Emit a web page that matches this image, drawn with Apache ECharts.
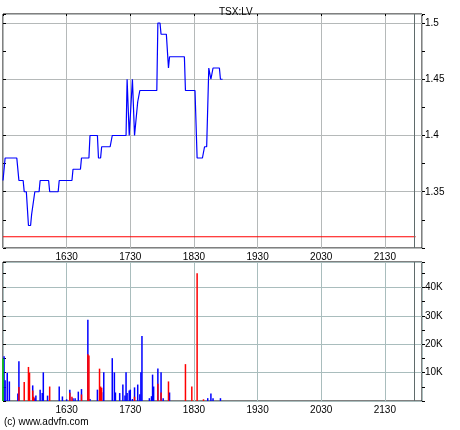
<!DOCTYPE html>
<html>
<head>
<meta charset="utf-8">
<script src="https://cdn.jsdelivr.net/npm/echarts@6/dist/echarts.min.js"></script>
<style>
  html, body { margin: 0; padding: 0; background: #fff; }
  #chart { width: 460px; height: 430px; }
</style>
</head>
<body>
<div id="chart"></div>
<script>
// intraday price (time, last)
const priceTimes = ['15:30', '15:32', '15:43', '15:45', '15:49', '15:50', '15:52', '15:54', '15:56', '15:57',
  '15:58', '16:00', '16:04', '16:05', '16:13', '16:14', '16:22', '16:23', '16:35', '16:36',
  '16:43', '16:44', '16:51', '16:52', '16:59', '17:00', '17:02', '17:03', '17:11', '17:13',
  '17:26', '17:27', '17:29', '17:32', '17:33', '17:34', '17:35', '17:37', '17:38', '17:39',
  '17:55', '17:56', '17:58', '17:59', '18:04', '18:06', '18:07', '18:21', '18:22', '18:31',
  '18:33', '18:38', '18:40', '18:42', '18:44', '18:45', '18:46', '18:48', '18:54', '18:55', '18:57']
const priceValues = [1.36, 1.38, 1.38, 1.36, 1.36, 1.35, 1.35, 1.32, 1.32, 1.33,
  1.33, 1.35, 1.35, 1.36, 1.36, 1.35, 1.35, 1.36, 1.36, 1.37,
  1.37, 1.38, 1.38, 1.40, 1.40, 1.38, 1.38, 1.39, 1.39, 1.40,
  1.40, 1.45, 1.40, 1.45, 1.45, 1.40, 1.40, 1.43, 1.43, 1.44,
  1.44, 1.50, 1.50, 1.49, 1.49, 1.46, 1.47, 1.47, 1.44, 1.44,
  1.38, 1.38, 1.39, 1.39, 1.46, 1.46, 1.45, 1.46, 1.46, 1.45, 1.45]

const prevClose = 1.31
const prevCloseSpan = ['15:30', '21:59']
const closeTime = '21:58'

// volume, split by tick direction
const blueTimes = ['15:31', '15:32', '15:34', '15:36', '15:44', '15:45', '15:58', '16:00', '16:01', '16:05',
  '16:07', '16:08', '16:12', '16:23', '16:26', '16:30', '16:33', '16:36', '16:38', '16:41',
  '16:44', '16:50', '16:52', '16:59', '17:03', '17:05', '17:13', '17:15', '17:16', '17:20',
  '17:23', '17:25', '17:26', '17:27', '17:29', '17:30', '17:32', '17:34', '17:37', '17:39',
  '17:40', '17:41', '17:48', '17:50', '17:51', '17:52', '17:56', '17:59', '18:01', '18:07',
  '18:43', '18:46', '18:48', '18:55']
const blueVols = [15800, 7300, 10000, 6900, 2600, 14000, 5500, 1000, 1900, 4000,
  2800, 10100, 1900, 5100, 1600, 600, 4000, 1000, 1000, 3300,
  4200, 28600, 700, 4000, 3100, 10100, 15100, 10100, 3000, 2800,
  5800, 1900, 10100, 2800, 3700, 4000, 700, 4800, 5800, 2400,
  10100, 22900, 1000, 1700, 9300, 5100, 11500, 10100, 1000, 3000,
  1000, 2600, 1000, 1000]
const redTimes = ['15:45', '15:50', '15:54', '15:55', '15:58', '15:59', '16:14', '16:33', '16:35', '16:44',
  '16:50', '16:51', '17:01', '17:02', '17:03', '17:34', '17:56', '17:59', '18:06', '18:22',
  '18:28', '18:33', '18:39']
const redVols = [4900, 6700, 12000, 10000, 3700, 1500, 5100, 2900, 1500, 2300,
  16500, 16000, 11400, 5100, 4700, 1500, 6100, 3000, 6900, 13000,
  5100, 45000, 600]
const greenTimes = ['15:30']
const greenVols = [15000]

const timeLabels = ['1630', '1730', '1830', '1930', '2030', '2130']
const volLabels = ['10K', '20K', '30K', '40K']

// x = minutes since 00:30, so the :30 gridlines fall on multiples of 60
const toX = s => { const [h, m] = s.split(':').map(Number); return h * 60 + m - 30 }
const fmtTime = v => { const m = v + 30; return String(Math.floor(m / 60)) + String(m % 60).padStart(2, '0') }
const pairs = (ts, vs) => ts.map((t, i) => [toX(t), vs[i]])

const font = { fontFamily: 'Liberation Sans, Arial, sans-serif', fontSize: 10, color: '#000' }
const xMin = toX('15:30'), xMax = toX('22:05')

function timeAxis(gridIndex, gridColor) {
  return {
    type: 'value', gridIndex, min: xMin, max: xMax, interval: 60, position: 'bottom',
    axisLine: { show: false }, axisTick: { show: false },
    axisLabel: { ...font, margin: 4, formatter: v => timeLabels.includes(fmtTime(v)) ? fmtTime(v) : '' },
    splitLine: { show: true, lineStyle: { color: gridColor, width: 1 } },
  }
}

const closeMark = {
  symbol: 'none', silent: true, label: { show: false },
  lineStyle: { color: '#5f6b6b', type: 'solid', width: 1 },
  data: [{ xAxis: toX(closeTime) }],
}

const chart = echarts.init(document.getElementById('chart'), null, { renderer: 'canvas' })
chart.setOption({
  animation: false,
  backgroundColor: '#fff',
  title: { text: 'TSX:LV', left: 214, top: 2, textStyle: { ...font, fontWeight: 'normal' } },
  graphic: [{ type: 'text', left: 4, top: 417, style: { text: '(c) www.advfn.com', font: '10px Liberation Sans, Arial, sans-serif', fill: '#000' } }],
  grid: [
    { left: 3, right: 38, top: 14, height: 234, show: true, borderColor: '#000', borderWidth: 1 },
    { left: 3, right: 38, top: 262, height: 139, show: true, borderColor: '#000', borderWidth: 1 },
  ],
  xAxis: [
    timeAxis(0, '#b5b9b9'),
    { ...timeAxis(0, '#b5b9b9'), position: 'top', axisLabel: { show: false }, splitLine: { show: false },
      axisTick: { show: true, inside: true, length: 2, lineStyle: { color: '#000' } } },
    timeAxis(1, '#a9bdbd'),
  ],
  yAxis: [
    {
      type: 'value', gridIndex: 0, position: 'right', min: 1.3, max: 1.508, interval: 0.05,
      axisLine: { show: false },
      axisTick: { show: true, length: 3, lineStyle: { color: '#000' } },
      minorTick: { show: true, splitNumber: 2, length: 3, lineStyle: { color: '#000' } },
      axisLabel: { ...font, margin: 3, showMinLabel: false, showMaxLabel: false },
      splitLine: { show: true, lineStyle: { color: '#b5b9b9', width: 1 } },
    },
    {
      type: 'value', gridIndex: 0, position: 'left', min: 1.3, max: 1.508, interval: 0.025,
      axisLine: { show: false }, axisLabel: { show: false }, splitLine: { show: false },
      axisTick: { show: true, inside: true, length: 3, lineStyle: { color: '#000' } },
    },
    {
      type: 'value', gridIndex: 1, position: 'right', min: 0, max: 49000, interval: 10000,
      axisLine: { show: false },
      axisTick: { show: true, length: 3, lineStyle: { color: '#000' } },
      minorTick: { show: true, splitNumber: 2, length: 3, lineStyle: { color: '#000' } },
      axisLabel: { ...font, margin: 3, formatter: v => volLabels.includes(v / 1000 + 'K') ? v / 1000 + 'K' : '' },
      splitLine: { show: true, lineStyle: { color: '#a9bdbd', width: 1 } },
    },
    {
      type: 'value', gridIndex: 1, position: 'left', min: 0, max: 49000, interval: 5000,
      axisLine: { show: false }, axisLabel: { show: false }, splitLine: { show: false },
      axisTick: { show: true, inside: true, length: 3, lineStyle: { color: '#000' } },
    },
  ],
  series: [
    {
      name: 'prev close', type: 'line', xAxisIndex: 0, yAxisIndex: 0, symbol: 'none',
      data: prevCloseSpan.map(t => [toX(t), prevClose]),
      lineStyle: { color: '#ff0000', width: 1 }, z: 3,
      markLine: closeMark,
    },
    {
      name: 'price', type: 'line', xAxisIndex: 0, yAxisIndex: 0, symbol: 'none',
      data: pairs(priceTimes, priceValues),
      lineStyle: { color: '#0000ff', width: 1.2 }, z: 4,
    },
    {
      name: 'up', type: 'bar', xAxisIndex: 2, yAxisIndex: 2, barWidth: 1.5, barGap: '-100%',
      data: pairs(blueTimes, blueVols), itemStyle: { color: '#0000ff' },
      markLine: closeMark,
    },
    {
      name: 'down', type: 'bar', xAxisIndex: 2, yAxisIndex: 2, barWidth: 1.5, barGap: '-100%',
      data: pairs(redTimes, redVols), itemStyle: { color: '#ff0000' },
    },
    {
      name: 'open', type: 'bar', xAxisIndex: 2, yAxisIndex: 2, barWidth: 1.5, barGap: '-100%',
      data: pairs(greenTimes, greenVols), itemStyle: { color: '#00cc00' },
    },
  ],
})
</script>
</body>
</html>
